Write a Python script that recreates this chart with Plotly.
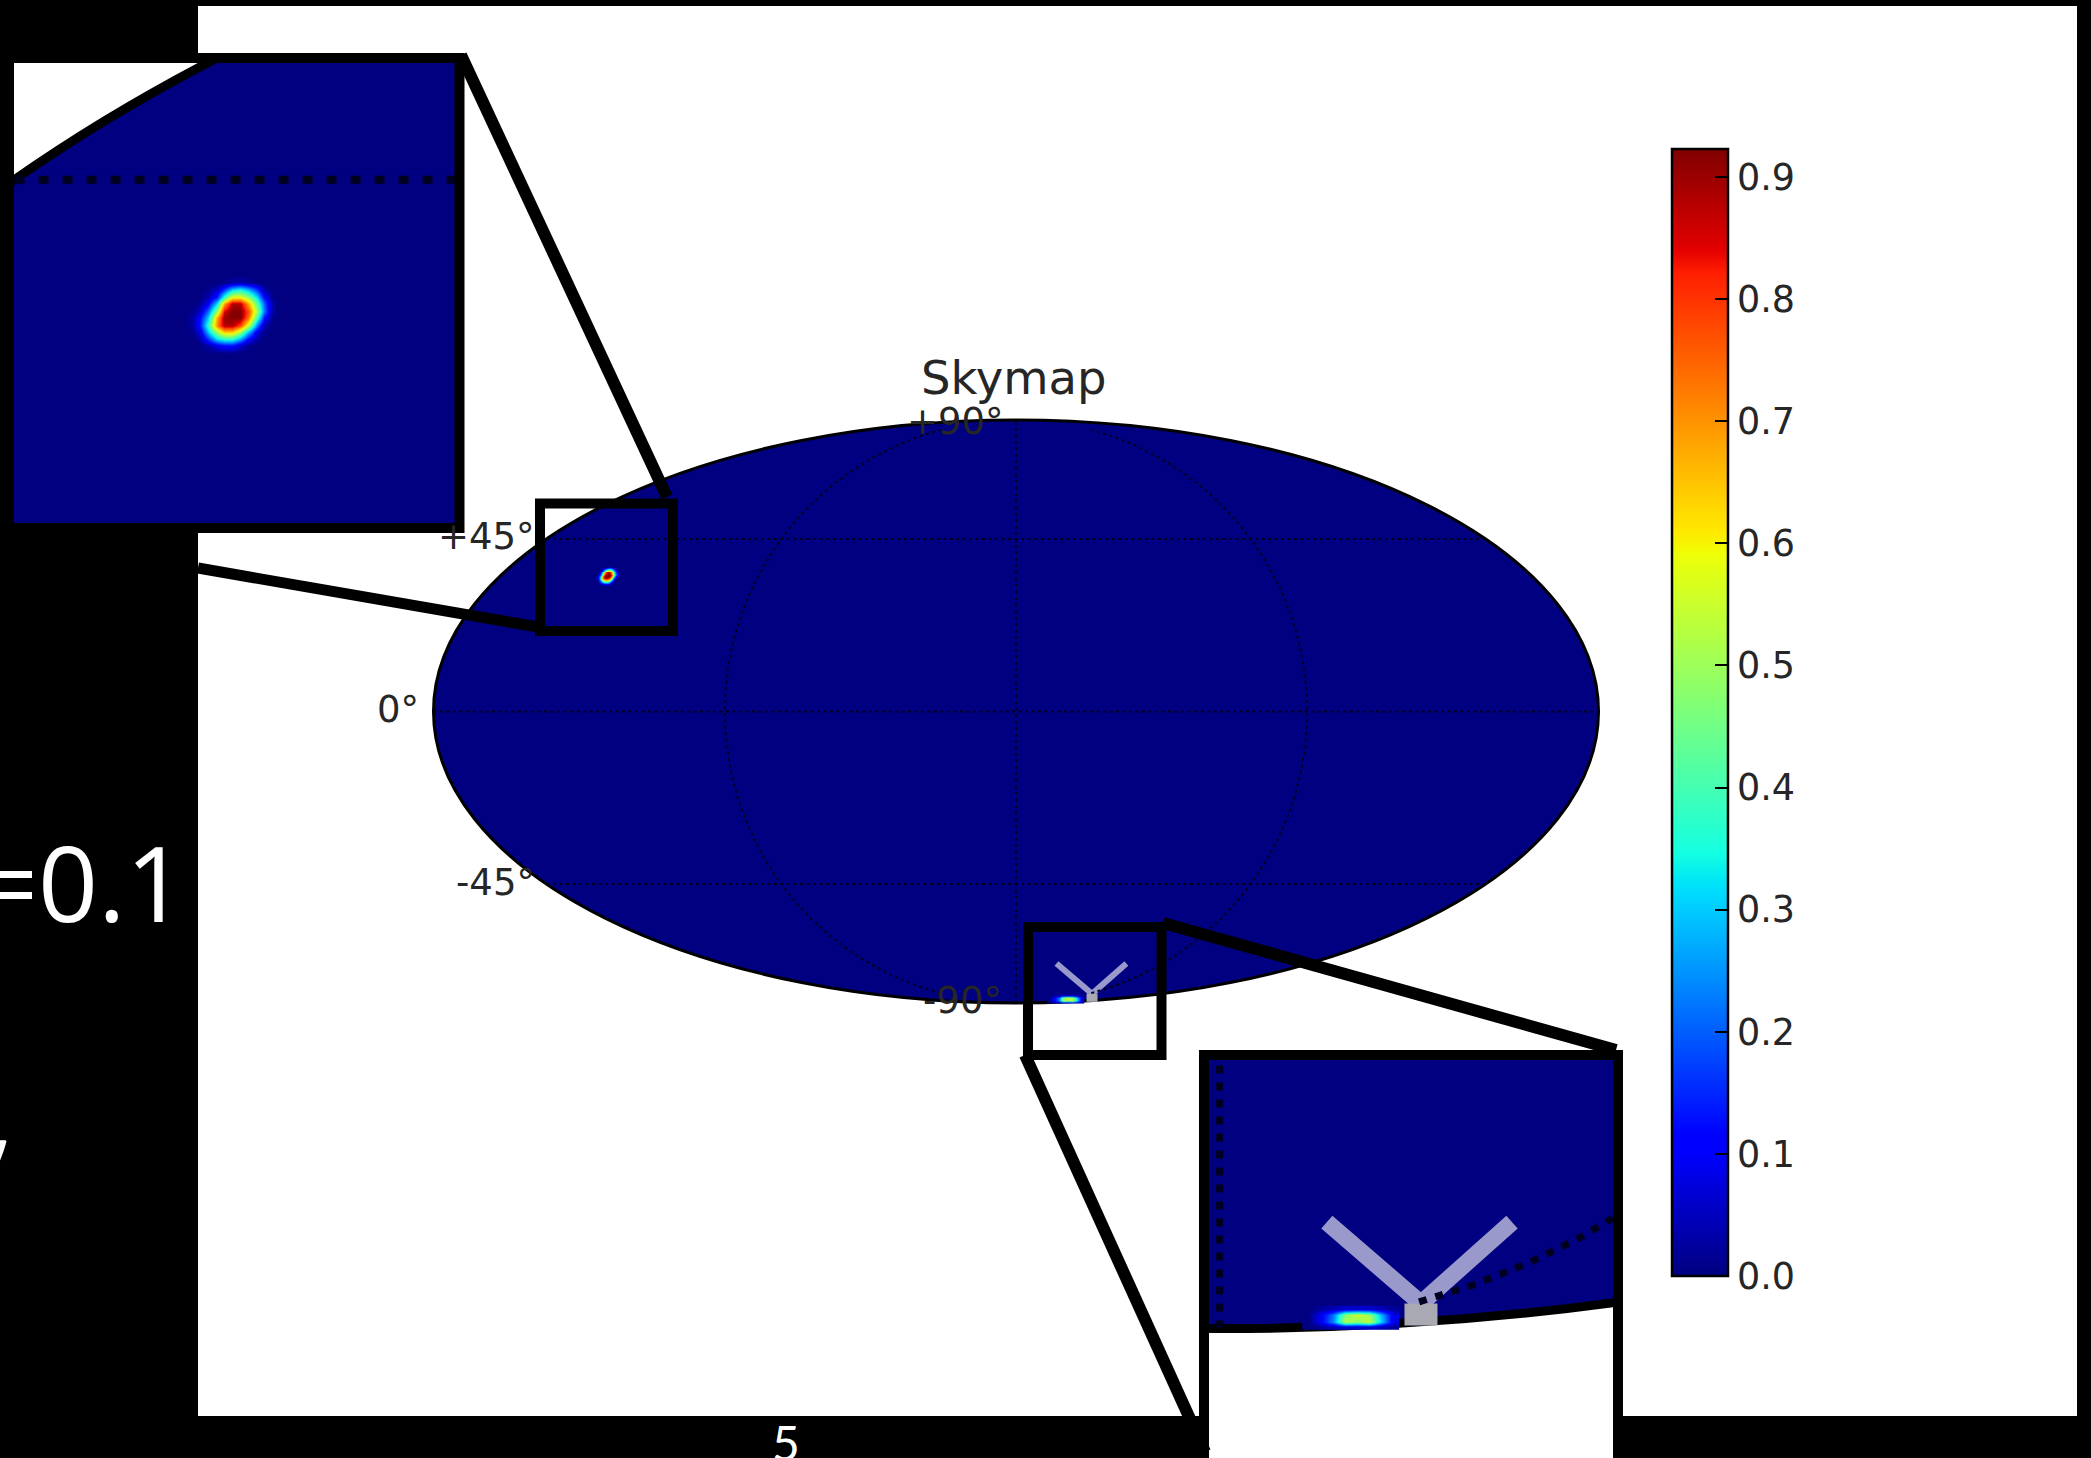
import numpy as np
import plotly.graph_objects as go

W, H = 2091, 1458

# ---- data ----
TITLE = "Skymap"
GRID_LAT = [45, 0, -45]
GRID_LON = [-90, 0, 90]
LAT_LABELS = ["+90°", "+45°", "0°", "-45°", "-90°"]
CBAR_TICKS = [0.0, 0.1, 0.2, 0.3, 0.4, 0.5, 0.6, 0.7, 0.8, 0.9]
CBAR_MAX = 0.923

# source near +45° (map units of the equal-area projection, half-height = 1)
BLOB_X = [-1.450, -1.442, -1.435, -1.427, -1.419, -1.412, -1.404, -1.397, -1.389, -1.381, -1.374, -1.366]
BLOB_Y = [0.503, 0.497, 0.490, 0.483, 0.477, 0.470, 0.464, 0.457, 0.451, 0.444, 0.438, 0.431]
BLOB_Z = [
    [0, 0, 0, 0, 0, 0, 0, 0, 0, 0, 0, 0],
    [0, 0, 0, 0, 0, .01, .03, .04, .02, 0, 0, 0],
    [0, 0, 0, .01, .05, .16, .30, .35, .28, .16, .03, 0],
    [0, 0, 0, .04, .15, .38, .60, .60, .50, .32, .12, .01],
    [0, 0, .02, .10, .32, .68, .88, .88, .68, .42, .20, .03],
    [0, .01, .06, .22, .50, .85, .92, .92, .78, .50, .22, .03],
    [0, .03, .12, .30, .68, .90, .92, .92, .74, .40, .13, .01],
    [0, .03, .14, .38, .72, .88, .88, .78, .55, .22, .04, 0],
    [0, .01, .08, .30, .52, .66, .66, .52, .30, .08, .01, 0],
    [0, 0, .03, .15, .30, .35, .35, .25, .10, .02, 0, 0],
    [0, 0, 0, .03, .08, .12, .12, .06, .01, 0, 0, 0],
    [0, 0, 0, 0, 0, 0, 0, 0, 0, 0, 0, 0],
]

# faint source at the south pole
POLE_X = [0.115, 0.131, 0.147, 0.163, 0.178, 0.194, 0.210, 0.225]
POLE_Y = [-0.975, -0.983, -0.991, -0.998]
POLE_Z = [
    [0, .02, .04, .06, .06, .06, .04, .02],
    [0, .10, .22, .48, .55, .50, .28, .08],
    [0, .10, .24, .52, .48, .54, .30, .08],
    [0, .02, .04, .06, .06, .06, .04, .02],
]

# grey "V" marker
V_X = [0.139, 0.261, 0.379]
V_Y = [-0.8645, -0.968, -0.8645]
STEM_X = [0.261, 0.261]
STEM_Y = [-0.968, -0.996]

# ---- style ----
NAVY = "#000080"
INK = "#262626"
JET = [
    [0.0, "rgb(0,0,128)"], [0.11, "rgb(0,0,255)"], [0.125, "rgb(0,0,255)"],
    [0.34, "rgb(0,219,255)"], [0.35, "rgb(0,229,246)"], [0.375, "rgb(20,255,226)"],
    [0.64, "rgb(238,255,8)"], [0.65, "rgb(246,244,0)"], [0.66, "rgb(255,234,0)"],
    [0.89, "rgb(255,30,0)"], [0.91, "rgb(228,0,0)"], [1.0, "rgb(128,0,0)"],
]

# pixel frame of the whole page
CX, CY, SX, SY = 1016.0, 711.5, 291.25, 291.5


def mx(px):
    return (px - CX) / SX


def my(py):
    return (CY - py) / SY


def pxr(v):
    return v / W


def pyr(v):
    return 1 - v / H


def moll_theta(lat):
    phi = np.radians(lat)
    t = phi
    for _ in range(60):
        d = 2 * t + np.sin(2 * t) - np.pi * np.sin(phi)
        dd = 2 + 2 * np.cos(2 * t)
        if abs(dd) < 1e-9:
            break
        t = t - d / dd
    return t


def parallel(lat):
    t = moll_theta(lat)
    return [-2 * np.cos(t), 2 * np.cos(t)], [np.sin(t), np.sin(t)]


def meridian(lon):
    cap = np.pi / 2 if lon == 0 else np.arcsin(0.966)
    ts = np.linspace(-cap, cap, 241)
    return (2 * lon / 180 * np.cos(ts)).tolist(), np.sin(ts).tolist()


PANELS = [
    dict(s="", dom=(198, 2077, 6, 1416), win=(198, 2077, 6, 1416),
         edge=3, gw=2, dash="3px,3.5px", vw=6, sw=11),
    dict(s="2", dom=(14, 455, 63, 523), win=(546.4, 668.9, 507.4, 631.7),
         edge=9, gw=8, dash="10px,14px", vw=17, sw=33),
    dict(s="3", dom=(1209, 1613, 1060, 1458), win=(1012, 1164.5, 903.4, 1051),
         edge=9, gw=7, dash="8px,9px", vw=17, sw=33),
]

fig = go.Figure()
shapes = []
layout = {}

for p in PANELS:
    s = p["s"]
    xa, ya = "x" + s, "y" + s
    d, w = p["dom"], p["win"]
    layout["xaxis" + s] = dict(domain=[pxr(d[0]), pxr(d[1])], range=[mx(w[0]), mx(w[1])],
                               visible=False, fixedrange=True, anchor=ya)
    layout["yaxis" + s] = dict(domain=[pyr(d[3]), pyr(d[2])], range=[my(w[3]), my(w[2])],
                               visible=False, fixedrange=True, anchor=xa)
    shapes.append(dict(type="circle", xref=xa, yref=ya, x0=-2, x1=2, y0=-1, y1=1,
                       fillcolor=NAVY, line=dict(color="black", width=p["edge"]), layer="below"))
    fig.add_trace(go.Heatmap(x=BLOB_X, y=BLOB_Y[::-1], z=BLOB_Z[::-1], coloraxis="coloraxis",
                             zsmooth="best", xaxis=xa, yaxis=ya, hoverinfo="skip"))
    fig.add_trace(go.Heatmap(x=POLE_X, y=POLE_Y[::-1], z=POLE_Z[::-1], coloraxis="coloraxis",
                             zsmooth="best", xaxis=xa, yaxis=ya, hoverinfo="skip"))
    fig.add_trace(go.Scatter(x=V_X, y=V_Y, mode="lines", xaxis=xa, yaxis=ya, hoverinfo="skip",
                             showlegend=False,
                             line=dict(color="rgba(255,255,255,0.6)", width=p["vw"])))
    fig.add_trace(go.Scatter(x=STEM_X, y=STEM_Y, mode="lines", xaxis=xa, yaxis=ya, hoverinfo="skip",
                             showlegend=False, line=dict(color="#a9a9b4", width=p["sw"])))
    for lat in GRID_LAT:
        gx, gy = parallel(lat)
        fig.add_trace(go.Scatter(x=gx, y=gy, mode="lines", xaxis=xa, yaxis=ya, hoverinfo="skip",
                                 showlegend=False,
                                 line=dict(color="#000020", width=p["gw"], dash=p["dash"])))
    for lon in GRID_LON:
        gx, gy = meridian(lon)
        fig.add_trace(go.Scatter(x=gx, y=gy, mode="lines", xaxis=xa, yaxis=ya, hoverinfo="skip",
                                 showlegend=False,
                                 line=dict(color="#000020", width=p["gw"], dash=p["dash"])))


def box(x0, y0, x1, y1, width=10):
    return dict(type="rect", xref="paper", yref="paper", x0=pxr(x0), x1=pxr(x1),
                y0=pyr(y1), y1=pyr(y0), line=dict(color="black", width=width),
                fillcolor="rgba(0,0,0,0)", layer="above")


def seg(x0, y0, x1, y1, width=12):
    return dict(type="line", xref="paper", yref="paper", x0=pxr(x0), x1=pxr(x1),
                y0=pyr(y0), y1=pyr(y1), line=dict(color="black", width=width), layer="above")


shapes += [
    box(540, 503.5, 673, 631),
    box(1028, 927, 1161.5, 1055),
    box(5, 58, 459.5, 528),
    box(1204, 1055, 1618, 1475),
    seg(461, 55, 667, 497, 12),
    seg(198, 568, 538, 627, 11),
    seg(1163, 923, 1616, 1050, 12),
    seg(1025, 1055, 1205, 1452, 12),
]


def label(text, x, y, size=37, color=INK, xanchor="center", yanchor="middle", family="DejaVu Sans"):
    return dict(text=text, x=pxr(x), y=pyr(y), xref="paper", yref="paper", showarrow=False,
                xanchor=xanchor, yanchor=yanchor, align="center",
                font=dict(family=family, size=size, color=color))


annotations = [
    label(TITLE, 1014, 378, size=46.5),
    label(LAT_LABELS[0], 955, 421),
    label(LAT_LABELS[1], 537, 537, xanchor="right"),
    label(LAT_LABELS[2], 421, 709, xanchor="right"),
    label(LAT_LABELS[3], 537, 882, xanchor="right"),
    label(LAT_LABELS[4], 1004, 1000, xanchor="right"),
    label("=0.1", 188, 881, size=105, color="white", xanchor="right", family="Open Sans"),
    label(",", 16, 1112, size=105, color="white", xanchor="right", family="Open Sans"),
    label("5", 786, 1442, size=48, color="white", family="Lato"),
]

fig.update_layout(
    width=W, height=H, autosize=False,
    margin=dict(l=0, r=0, t=0, b=0, pad=0),
    paper_bgcolor="black", plot_bgcolor="white",
    showlegend=False, shapes=shapes, annotations=annotations,
    coloraxis=dict(
        cmin=0, cmax=CBAR_MAX, colorscale=JET,
        colorbar=dict(
            x=pxr(1672), xanchor="left", xpad=0, y=pyr(149), yanchor="top", ypad=0,
            lenmode="pixels", len=1127, thicknessmode="pixels", thickness=56,
            outlinecolor="black", outlinewidth=2.5,
            tickmode="array", tickvals=CBAR_TICKS, ticktext=[f"{t:.1f}" for t in CBAR_TICKS],
            ticks="inside", ticklen=14, tickwidth=1.5, tickcolor="black",
            tickfont=dict(family="DejaVu Sans", size=36.5, color=INK),
        ),
    ),
    **layout,
)

fig.write_html("out.html", config=dict(displayModeBar=False),
               post_script="document.body.style.margin='0';document.body.style.overflow='hidden';")
